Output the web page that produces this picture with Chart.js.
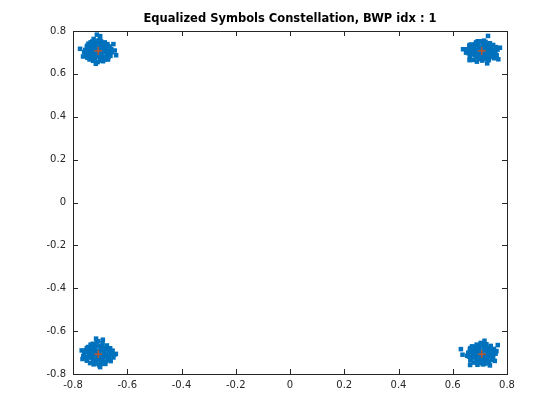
<!DOCTYPE html>
<html>
<head>
<meta charset="utf-8">
<script src="https://cdn.jsdelivr.net/npm/chart.js@4/dist/chart.umd.min.js"></script>
<style>
    html, body { margin: 0; padding: 0; background: #fff; }
    #wrap { width: 560px; height: 420px; }
</style>
</head>
<body>
<div id="wrap"><canvas id="chart" width="560" height="420"></canvas></div>
<script>
"use strict";

const titleText = "Equalized Symbols Constellation, BWP idx : 1";
const xTickValues = [-0.8, -0.6, -0.4, -0.2, 0, 0.2, 0.4, 0.6, 0.8];
const yTickValues = [-0.8, -0.6, -0.4, -0.2, 0, 0.2, 0.4, 0.6, 0.8];

// reference QPSK points
const refSymbols = [
    [-0.7071, 0.7071], [0.7071, 0.7071], [-0.7071, -0.7071], [0.7071, -0.7071]
];

// equalized symbols
const eqTopLeft = [
    [-0.755, 0.712], [-0.752, 0.695], [-0.749, 0.727], [-0.747, 0.682], [-0.743, 0.741],
    [-0.741, 0.709], [-0.739, 0.667], [-0.734, 0.724], [-0.731, 0.690], [-0.729, 0.751],
    [-0.726, 0.661], [-0.724, 0.707], [-0.721, 0.736], [-0.719, 0.675], [-0.714, 0.755],
    [-0.713, 0.718], [-0.711, 0.693], [-0.709, 0.655], [-0.707, 0.739], [-0.705, 0.705],
    [-0.702, 0.724], [-0.700, 0.673], [-0.697, 0.753], [-0.695, 0.690], [-0.693, 0.713],
    [-0.690, 0.736], [-0.689, 0.659], [-0.685, 0.701], [-0.683, 0.747], [-0.681, 0.678],
    [-0.678, 0.721], [-0.675, 0.693], [-0.673, 0.739], [-0.671, 0.667], [-0.667, 0.707],
    [-0.665, 0.728], [-0.662, 0.684], [-0.659, 0.716], [-0.657, 0.701], [-0.759, 0.701],
    [-0.717, 0.701], [-0.696, 0.732], [-0.736, 0.705], [-0.676, 0.705], [-0.707, 0.684],
    [-0.725, 0.678], [-0.688, 0.675], [-0.729, 0.739], [-0.685, 0.730], [-0.737, 0.677],
    [-0.742, 0.692], [-0.737, 0.719], [-0.732, 0.735], [-0.727, 0.699], [-0.722, 0.722],
    [-0.717, 0.747], [-0.712, 0.682], [-0.707, 0.717], [-0.702, 0.692], [-0.697, 0.742],
    [-0.692, 0.702], [-0.687, 0.719], [-0.682, 0.667], [-0.677, 0.732], [-0.672, 0.699],
    [-0.747, 0.675], [-0.719, 0.665], [-0.699, 0.662], [-0.669, 0.679], [-0.747, 0.732],
    [-0.702, 0.755], [-0.735, 0.747],
    [-0.774, 0.717], [-0.641, 0.687], [-0.651, 0.739], [-0.763, 0.681], [-0.701, 0.769],
    [-0.716, 0.647], [-0.646, 0.709], [-0.724, 0.763], [-0.712, 0.783], [-0.700, 0.776]
];
const eqTopRight = [
    [0.652, 0.715], [0.657, 0.697], [0.661, 0.729], [0.664, 0.679], [0.669, 0.737],
    [0.672, 0.704], [0.676, 0.665], [0.679, 0.721], [0.682, 0.687], [0.686, 0.747],
    [0.689, 0.657], [0.692, 0.710], [0.695, 0.733], [0.698, 0.677], [0.701, 0.752],
    [0.703, 0.719], [0.706, 0.692], [0.709, 0.662], [0.711, 0.737], [0.713, 0.703],
    [0.716, 0.725], [0.718, 0.671], [0.721, 0.749], [0.723, 0.688], [0.726, 0.712],
    [0.728, 0.734], [0.731, 0.663], [0.734, 0.699], [0.737, 0.743], [0.740, 0.680],
    [0.743, 0.720], [0.746, 0.691], [0.749, 0.735], [0.752, 0.673], [0.756, 0.709],
    [0.759, 0.725], [0.762, 0.687], [0.765, 0.713], [0.649, 0.699], [0.699, 0.702],
    [0.719, 0.731], [0.677, 0.705], [0.737, 0.705], [0.708, 0.681], [0.687, 0.677],
    [0.729, 0.677], [0.683, 0.739], [0.731, 0.729], [0.667, 0.719], [0.747, 0.703],
    [0.672, 0.692], [0.677, 0.725], [0.685, 0.737], [0.689, 0.697], [0.695, 0.722],
    [0.699, 0.669], [0.704, 0.682], [0.709, 0.719], [0.715, 0.695], [0.719, 0.743],
    [0.724, 0.704], [0.729, 0.721], [0.733, 0.667], [0.739, 0.731], [0.743, 0.701],
    [0.663, 0.677], [0.692, 0.752], [0.715, 0.755], [0.749, 0.681], [0.662, 0.735],
    [0.757, 0.695], [0.657, 0.712],
    [0.730, 0.777], [0.774, 0.722], [0.768, 0.668], [0.638, 0.715], [0.727, 0.649],
    [0.662, 0.664]
];
const eqBottomLeft = [
    [-0.759, -0.703], [-0.755, -0.721], [-0.752, -0.689], [-0.748, -0.737], [-0.744, -0.674],
    [-0.741, -0.708], [-0.737, -0.749], [-0.734, -0.687], [-0.730, -0.725], [-0.727, -0.659],
    [-0.724, -0.755], [-0.721, -0.705], [-0.718, -0.676], [-0.715, -0.740], [-0.712, -0.649],
    [-0.710, -0.693], [-0.707, -0.719], [-0.704, -0.759], [-0.702, -0.671], [-0.699, -0.710],
    [-0.697, -0.688], [-0.694, -0.743], [-0.691, -0.657], [-0.689, -0.727], [-0.686, -0.701],
    [-0.683, -0.677], [-0.681, -0.753], [-0.678, -0.715], [-0.675, -0.667], [-0.672, -0.734],
    [-0.669, -0.692], [-0.666, -0.720], [-0.663, -0.680], [-0.661, -0.740], [-0.657, -0.706],
    [-0.654, -0.691], [-0.651, -0.723], [-0.647, -0.709], [-0.762, -0.717], [-0.716, -0.711],
    [-0.696, -0.681], [-0.735, -0.711], [-0.677, -0.710], [-0.706, -0.735], [-0.726, -0.735],
    [-0.688, -0.737], [-0.729, -0.671], [-0.686, -0.683], [-0.745, -0.697], [-0.707, -0.647],
    [-0.742, -0.722], [-0.737, -0.693], [-0.731, -0.681], [-0.725, -0.715], [-0.720, -0.690],
    [-0.715, -0.665], [-0.711, -0.733], [-0.705, -0.699], [-0.701, -0.725], [-0.695, -0.669],
    [-0.691, -0.713], [-0.686, -0.695], [-0.681, -0.745], [-0.676, -0.683], [-0.671, -0.717],
    [-0.749, -0.737], [-0.719, -0.751], [-0.698, -0.753], [-0.667, -0.735], [-0.749, -0.679],
    [-0.735, -0.663], [-0.661, -0.699],
    [-0.768, -0.690], [-0.765, -0.730], [-0.642, -0.706], [-0.715, -0.635], [-0.690, -0.640],
    [-0.700, -0.768]
];
const eqBottomRight = [
    [0.657, -0.701], [0.660, -0.719], [0.663, -0.685], [0.667, -0.733], [0.671, -0.671],
    [0.674, -0.711], [0.678, -0.747], [0.681, -0.691], [0.685, -0.727], [0.688, -0.663],
    [0.691, -0.757], [0.694, -0.703], [0.697, -0.679], [0.700, -0.737], [0.703, -0.655],
    [0.705, -0.695], [0.708, -0.721], [0.711, -0.755], [0.713, -0.673], [0.716, -0.709],
    [0.718, -0.687], [0.721, -0.741], [0.724, -0.661], [0.726, -0.725], [0.729, -0.699],
    [0.732, -0.679], [0.734, -0.751], [0.737, -0.715], [0.740, -0.669], [0.743, -0.733],
    [0.746, -0.693], [0.749, -0.721], [0.752, -0.683], [0.755, -0.739], [0.758, -0.705],
    [0.761, -0.693], [0.653, -0.715], [0.699, -0.713], [0.719, -0.681], [0.679, -0.709],
    [0.736, -0.709], [0.707, -0.735], [0.689, -0.737], [0.727, -0.737], [0.685, -0.673],
    [0.729, -0.683], [0.669, -0.697], [0.747, -0.709],
    [0.672, -0.722], [0.677, -0.693], [0.683, -0.679], [0.688, -0.715], [0.693, -0.691],
    [0.698, -0.667], [0.703, -0.729], [0.708, -0.699], [0.713, -0.723], [0.717, -0.671],
    [0.722, -0.713], [0.727, -0.695], [0.731, -0.745], [0.737, -0.683], [0.742, -0.717],
    [0.665, -0.737], [0.697, -0.749], [0.717, -0.753], [0.747, -0.733], [0.665, -0.679],
    [0.712, -0.657], [0.755, -0.701],
    [0.630, -0.684], [0.636, -0.710], [0.717, -0.645], [0.766, -0.665], [0.737, -0.760],
    [0.664, -0.758]
];

const kAxisColor = "#262626";
const kFont = "'DejaVu Sans', 'Liberation Sans', sans-serif";

function toXY(pairs) {
    return pairs.map(([x, y]) => ({ x, y }));
}

// MATLAB style box: frame on all four sides, ticks pointing inward, title over the axes
const boxPlugin = {
    id: "matlabBox",
    afterDatasetsDraw(chart) {
        const { ctx, chartArea: area, scales } = chart;
        const len = 5;
        ctx.save();
        ctx.strokeStyle = kAxisColor;
        ctx.lineWidth = 1;
        ctx.beginPath();
        for (const t of scales.x.ticks) {
            const px = Math.round(scales.x.getPixelForValue(t.value)) + 0.5;
            ctx.moveTo(px, area.bottom);
            ctx.lineTo(px, area.bottom - len);
            ctx.moveTo(px, area.top);
            ctx.lineTo(px, area.top + len);
        }
        for (const t of scales.y.ticks) {
            const py = Math.round(scales.y.getPixelForValue(t.value)) + 0.5;
            ctx.moveTo(area.left, py);
            ctx.lineTo(area.left + len, py);
            ctx.moveTo(area.right, py);
            ctx.lineTo(area.right - len, py);
        }
        ctx.stroke();
        ctx.strokeRect(Math.round(area.left) + 0.5, Math.round(area.top) + 0.5,
            Math.round(area.right - area.left), Math.round(area.bottom - area.top));

        ctx.fillStyle = "#000";
        ctx.font = `bold 11.5px ${kFont}`;
        ctx.textAlign = "center";
        ctx.textBaseline = "middle";
        ctx.fillText(titleText, (area.left + area.right) / 2, area.top - 11.5);
        ctx.restore();
    }
};

function axisOptions(values, fitKey, fitSize, pad) {
    return {
        type: "linear",
        min: values[0],
        max: values[values.length - 1],
        afterBuildTicks(scale) {
            scale.ticks = values.map((value) => ({ value }));
        },
        afterFit(scale) {
            scale[fitKey] = fitSize;
        },
        grid: { display: false, drawTicks: false },
        border: { display: false },
        ticks: {
            padding: pad,
            color: kAxisColor,
            font: { family: kFont, size: 10 },
            maxRotation: 0,
            autoSkip: false,
            callback: (v) => (v === 0 ? "0" : Number(v).toFixed(1))
        }
    };
}

const eqStyle = {
    pointStyle: "rect",
    backgroundColor: "#0072BD",
    borderWidth: 0,
    pointRadius: 3.2,
    pointHoverRadius: 3.2,
    order: 1
};

new Chart(document.getElementById("chart").getContext("2d"), {
    type: "scatter",
    data: {
        datasets: [
            {
                label: "reference",
                data: toXY(refSymbols),
                pointStyle: "cross",
                pointRadius: 4,
                borderColor: "#D95319",
                borderWidth: 1.2,
                order: 0
            },
            { label: "eq1", data: toXY(eqTopLeft), ...eqStyle },
            { label: "eq2", data: toXY(eqTopRight), ...eqStyle },
            { label: "eq3", data: toXY(eqBottomLeft), ...eqStyle },
            { label: "eq4", data: toXY(eqBottomRight), ...eqStyle }
        ]
    },
    options: {
        responsive: false,
        animation: false,
        events: [],
        layout: { padding: { left: 0, right: 53, top: 31, bottom: 0 } },
        plugins: {
            legend: { display: false },
            tooltip: { enabled: false },
            title: { display: false }
        },
        scales: {
            x: axisOptions(xTickValues, "height", 46, 5),
            y: axisOptions(yTickValues, "width", 73, 7)
        }
    },
    plugins: [boxPlugin]
});
</script>
</body>
</html>
